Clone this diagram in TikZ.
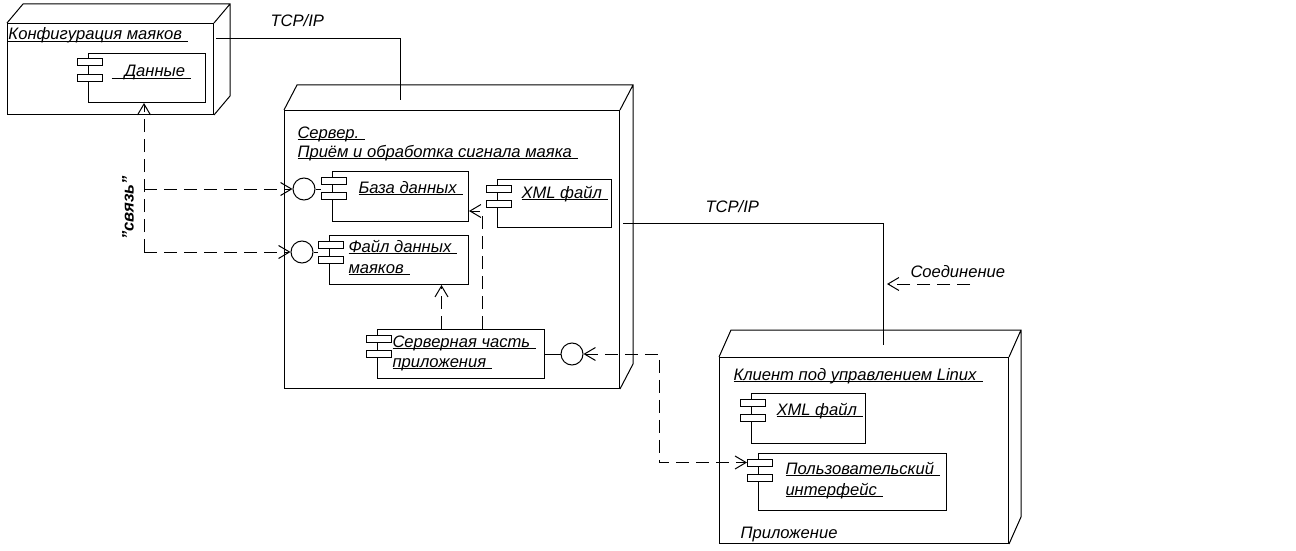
\documentclass[tikz,border=0pt]{standalone}
\usepackage{fontspec}
\setmainfont{Liberation Sans}
\usetikzlibrary{arrows.meta,positioning}

% underlined label line, a bit longer than its text
\newcommand\ul[1]{\underline{\raisebox{0pt}[\height][0pt]{#1}\hspace{6pt}}}
% depth faces of a node cube
\newcommand\cubeface[3]{\draw (#1.north west) -- ++(#2,-#3) -| ([shift={(#2,-#3)}]#1.south east) -- (#1.south east) (#1.north east) -- ++(#2,-#3);}

\begin{document}
\begin{tikzpicture}[x=1pt,y=-1pt,line width=1pt,
    font=\fontsize{16.6}{20}\selectfont\itshape,
    >={Straight Barb[length=11pt,width=13pt]}]
  \tikzstyle{cube}=[draw, rectangle, anchor=north west, inner sep=0pt]
  \tikzstyle{comp}=[draw, rectangle, anchor=north west, inner sep=0pt]
  \tikzstyle{tab}=[draw, fill=white, minimum width=25pt, minimum height=7pt, inner sep=0pt]
  \tikzstyle{port}=[draw, circle, minimum size=22pt, inner sep=0pt]
  \tikzstyle{txt}=[anchor=base west, inner sep=0pt]
  \tikzstyle{dep}=[dash pattern=on 13pt off 7pt, ->]

  \useasboundingbox (0,0) rectangle (1296,551);

  % nodes
  \node[cube, minimum width=206pt, minimum height=91pt] (cfg) at (7,23) {};
  \node[cube, minimum width=335pt, minimum height=278pt] (srv) at (284,110) {};
  \node[cube, minimum width=289pt, minimum height=186pt] (cli) at (719,357) {};
  \cubeface{cfg}{16}{19}
  \cubeface{srv}{13}{25}
  \cubeface{cli}{12}{27}

  \node[txt] (cfg-l) at (8,40) {\ul{Конфигурация маяков}};
  \node[txt] (srv-l1) at (297,138) {\ul{Сервер.}};
  \node[txt] (srv-l2) at (297,157) {\ul{Приём и обработка сигнала маяка}};
  \node[txt] (cli-l) at (733,380) {\ul{Клиент под управлением Linux}};
  \node[txt] (app-l) at (740,538) {Приложение};

  % components
  \node[comp, minimum width=117pt, minimum height=49pt] (data) at (88,53) {};
  \node[comp, minimum width=136pt, minimum height=50pt] (db) at (332,171) {};
  \node[comp, minimum width=114pt, minimum height=48pt] (xmls) at (497,179) {};
  \node[comp, minimum width=139pt, minimum height=49pt] (bfile) at (329,235) {};
  \node[comp, minimum width=167pt, minimum height=49pt] (sapp) at (377,329) {};
  \node[comp, minimum width=114pt, minimum height=50pt] (xmlc) at (751,393) {};
  \node[comp, minimum width=188pt, minimum height=57pt] (gui) at (758,453) {};
  \foreach \c in {data,db,xmls,bfile,sapp,xmlc,gui} {
    \node[tab] (\c-t1) at ([shift={(2,9.5)}]\c.north west) {};
    \node[tab] (\c-t2) at ([shift={(2,25)}]\c.north west) {};
  }

  \node[txt] (data-l) at (111,77) {\ul{\hspace{13pt}Данные}};
  \node[txt] (db-l) at (358,193) {\ul{База данных}};
  \node[txt] (xmls-l) at (521,198) {\ul{XML файл}};
  \node[txt] (bfile-l1) at (348,252) {\ul{Файл данных}};
  \node[txt] (bfile-l2) at (348,273) {\ul{маяков}};
  \node[txt] (sapp-l1) at (392,347) {\ul{Серверная часть}};
  \node[txt] (sapp-l2) at (392,367) {\ul{приложения}};
  \node[txt] (xmlc-l) at (776,415) {\ul{XML файл}};
  \node[txt] (gui-l1) at (785,474) {\ul{Пользовательский}};
  \node[txt] (gui-l2) at (785,495) {\ul{интерфейс}};

  % interfaces
  \node[port] (db-if) at (304,189) {};
  \node[port] (bfile-if) at (302,252) {};
  \node[port] (sapp-if) at (572,354) {};
  \draw (db-if.east) -- (db-if.east -| db-t1.west);
  \draw (bfile-if.east) -- (bfile-if.east -| bfile-t1.west);
  \draw (sapp.east) -- (sapp-if.west);

  % TCP/IP links
  \coordinate (t1a) at (216,39);
  \coordinate (t1b) at (400,100);
  \draw (t1a) -| (t1b);
  \node[txt] (tcp1) at (270,27) {TCP/IP};
  \coordinate (t2a) at (623,223);
  \coordinate (t2b) at (883,345);
  \draw (t2a) -| (t2b);
  \node[txt] (tcp2) at (705,212) {TCP/IP};
  \coordinate (c0) at (970,284);
  \coordinate (c1) at (887,284);
  \draw[dep] (c0) -- (c1);
  \node[txt] (con-l) at (910,277) {Соединение};

  % dependencies
  \coordinate (sv) at (144,0);
  \draw[dep] (bfile-if.west -| sv) -- (sv |- data.south);
  \draw[dep] (db-if.west -| sv) -- (db-if.west);
  \draw[dep] (bfile-if.west -| sv) -- (bfile-if.west);
  \node[rotate=90, font=\fontsize{16.6}{20}\selectfont\bfseries\itshape] (svz) at (128,208) {"связь"};

  \coordinate (a1) at ([xshift=-19.5]sapp.north);
  \draw[dep] (a1) -- (a1 |- bfile.south);
  \coordinate (a2) at ([xshift=21]sapp.north);
  \draw[dep] (a2) |- ([yshift=11]db.south east);

  \coordinate (cb) at (659,0);
  \draw[dep, <->] (sapp-if.east) -- (sapp-if.east -| cb) |- (gui-t1.west);
\end{tikzpicture}
\end{document}
